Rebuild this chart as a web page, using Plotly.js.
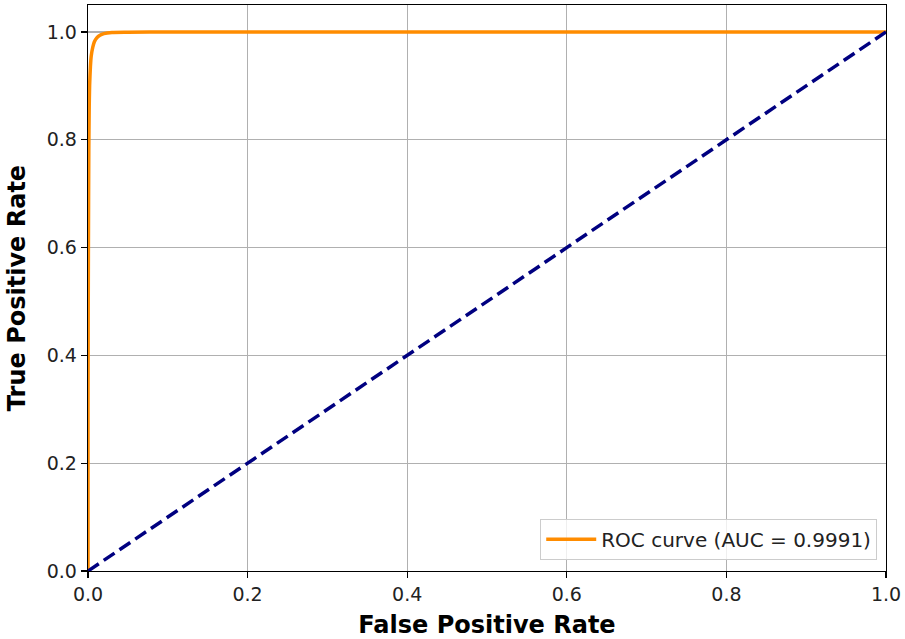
<!DOCTYPE html>
<html>
<head>
<meta charset="utf-8">
<script src="https://cdn.plot.ly/plotly-3.0.1.min.js"></script>
<style>body{margin:0;padding:0;background:#fff;}#chart{width:905px;height:639px;}</style>
</head>
<body>
<div id="chart"></div>
<script>
const fpr = [0, 0, 0.0005, 0.001, 0.0015, 0.002, 0.003, 0.004, 0.006, 0.008, 0.011, 0.015, 0.02, 0.03, 0.05, 0.1, 0.3, 1.0];
const tpr = [0, 0.30, 0.60, 0.78, 0.86, 0.90, 0.935, 0.955, 0.972, 0.982, 0.989, 0.994, 0.997, 0.999, 0.9995, 1.0, 1.0, 1.0];
const diagX = [0, 1];
const diagY = [0, 1];
const rocLabel = "ROC curve (AUC = 0.9991)";
const xTitle = "False Positive Rate";
const yTitle = "True Positive Rate";
const tickVals = [0, 0.2, 0.4, 0.6, 0.8, 1.0];
const tickText = ["0.0", "0.2", "0.4", "0.6", "0.8", "1.0"];

const font = "DejaVu Sans, sans-serif";
const traces = [
  {x: fpr, y: tpr, mode: "lines", name: rocLabel, line: {color: "darkorange", width: 3.5, shape: "spline", smoothing: 0.6}},
  {x: diagX, y: diagY, mode: "lines", showlegend: false, line: {color: "navy", width: 3.5, dash: "13px,6px"}}
];
const axisCommon = {
  showline: true, mirror: true, linecolor: "black", linewidth: 1.3,
  ticks: "outside", ticklen: 6, tickwidth: 1.3, tickcolor: "black",
  showgrid: true, gridcolor: "#b0b0b0", gridwidth: 1.2,
  zeroline: false, tickvals: tickVals, ticktext: tickText,
  tickfont: {family: font, size: 19, color: "#222"}
};
const layout = {
  width: 905, height: 639,
  margin: {l: 88, r: 19, t: 5, b: 68},
  paper_bgcolor: "white", plot_bgcolor: "white",
  showlegend: true,
  xaxis: Object.assign({}, axisCommon, {range: [0, 1],
    title: {text: "<b>" + xTitle + "</b>", font: {family: font, size: 24, color: "black"}, standoff: 12}}),
  yaxis: Object.assign({}, axisCommon, {range: [0, 1.05],
    title: {text: "<b>" + yTitle + "</b>", font: {family: font, size: 24, color: "black"}, standoff: 14}}),
  legend: {x: 0.989, y: 0.02, xanchor: "right", yanchor: "bottom",
    bgcolor: "rgba(255,255,255,0.8)", bordercolor: "#cccccc", borderwidth: 1,
    itemwidth: 50,
    font: {family: font, size: 20, color: "#222"}}
};
Plotly.newPlot("chart", traces, layout, {displayModeBar: false, staticPlot: true});
</script>
</body>
</html>
